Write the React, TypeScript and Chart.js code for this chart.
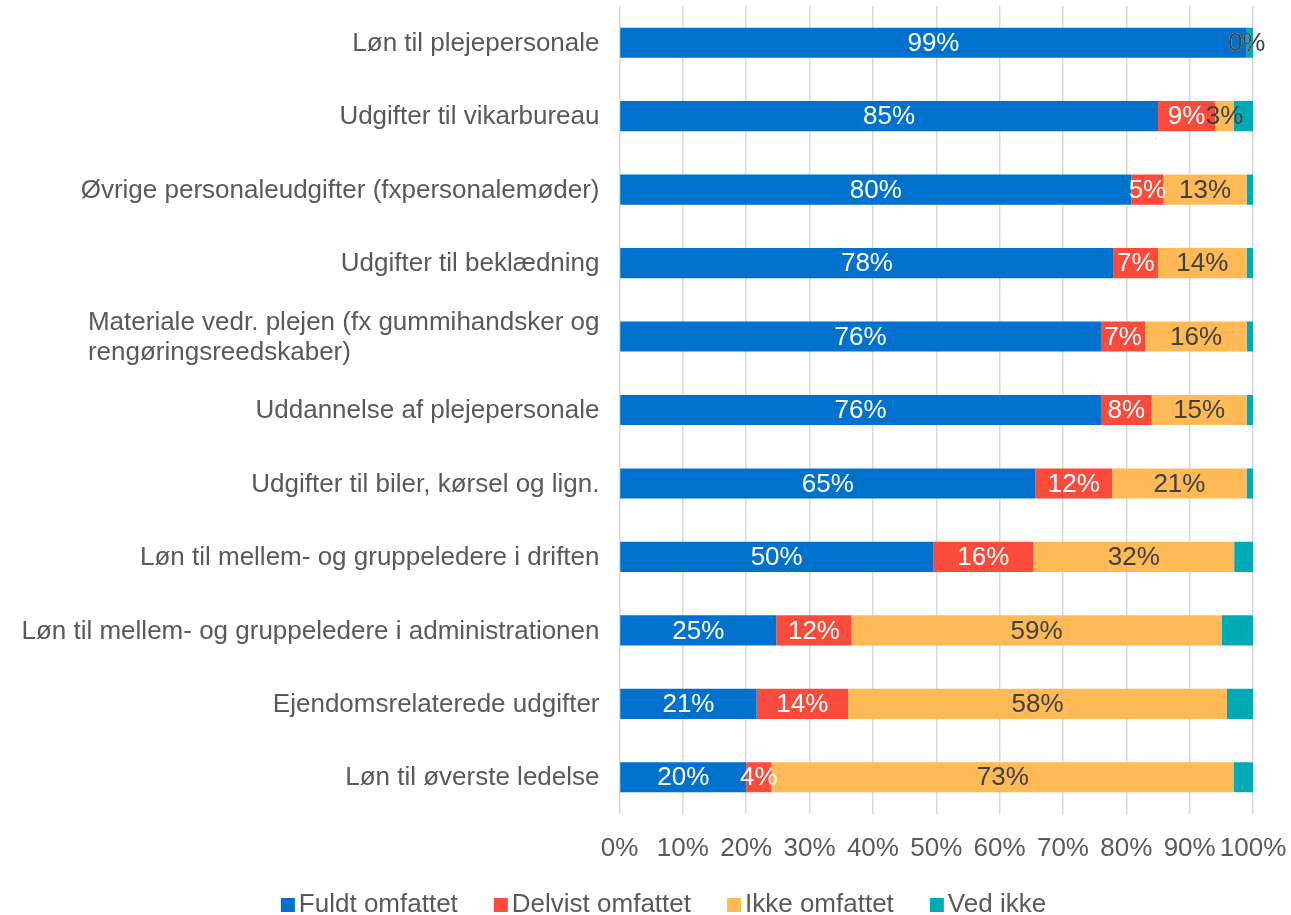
import React, { useEffect, useRef } from "react";
import { Chart, registerables } from "chart.js";

Chart.register(...registerables);

const categories: (string | string[])[] = [
  "Løn til plejepersonale",
  "Udgifter til vikarbureau",
  "Øvrige personaleudgifter (fxpersonalemøder)",
  "Udgifter til beklædning",
  ["Materiale vedr. plejen (fx gummihandsker og", "rengøringsreedskaber)"],
  "Uddannelse af plejepersonale",
  "Udgifter til biler, kørsel og lign.",
  "Løn til mellem- og gruppeledere i driften",
  "Løn til mellem- og gruppeledere i administrationen",
  "Ejendomsrelaterede udgifter",
  "Løn til øverste ledelse",
];

const seriesNames = ["Fuldt omfattet", "Delvist omfattet", "Ikke omfattet", "Ved ikke"];
const seriesColors = ["#0072CE", "#FA4B3C", "#FFB955", "#00AAB4"];
const labelColors = ["#FFFFFF", "#FFFFFF", "#404040", null];

const fuldt = [99, 85, 80, 78, 76, 76, 65, 50, 25, 21, 20];
const delvist = [0, 9, 5, 7, 7, 8, 12, 16, 12, 14, 4];
const ikke = [0, 3, 13, 14, 16, 15, 21, 32, 59, 58, 73];
const vedIkke = [1, 3, 1, 1, 1, 1, 1, 3, 5, 4, 3];

const xTicks = [0, 10, 20, 30, 40, 50, 60, 70, 80, 90, 100];

const FONT = "'Liberation Sans', Arial, sans-serif";
const TEXT = "#595959";

export default function App() {
  const ref = useRef<HTMLCanvasElement | null>(null);

  useEffect(() => {
    document.body.style.margin = "0";
    const raw = [fuldt, delvist, ikke, vedIkke];
    const totals = categories.map((_, i) => raw.reduce((s, a) => s + a[i], 0));
    const shares = raw.map((arr) => arr.map((v, i) => (v / totals[i]) * 100));

    const dataLabels = {
      id: "dataLabels",
      afterDatasetsDraw(chart: any) {
        const ctx = chart.ctx;
        ctx.save();
        ctx.font = `26px ${FONT}`;
        ctx.textAlign = "center";
        ctx.textBaseline = "middle";
        for (let d = 0; d < 3; d++) {
          const meta = chart.getDatasetMeta(d);
          meta.data.forEach((bar: any, i: number) => {
            const color = labelColors[d];
            if (!color) return;
            const cx = (bar.x + bar.base) / 2;
            ctx.fillStyle = color;
            ctx.fillText(Math.round(raw[d][i]) + "%", cx, bar.y + 1);
          });
        }
        ctx.restore();
      },
    };

    const yLabels = {
      id: "yLabels",
      afterDraw(chart: any) {
        const ctx = chart.ctx;
        const ys = chart.scales.y;
        ctx.save();
        ctx.font = `26px ${FONT}`;
        ctx.fillStyle = TEXT;
        ctx.textBaseline = "middle";
        ctx.textAlign = "left";
        const right = chart.chartArea.left - 20;
        categories.forEach((lab, i) => {
          const lines = Array.isArray(lab) ? lab : [lab];
          const w = Math.max(...lines.map((l) => ctx.measureText(l).width));
          const y0 = ys.getPixelForTick(i);
          const lh = 30;
          lines.forEach((l, k) => {
            const y = y0 + (k - (lines.length - 1) / 2) * lh;
            ctx.fillText(l, right - w, y + 1);
          });
        });
        ctx.restore();
      },
    };

    const legend = {
      id: "customLegend",
      afterDraw(chart: any) {
        const ctx = chart.ctx;
        ctx.save();
        ctx.font = `26px ${FONT}`;
        ctx.textBaseline = "alphabetic";
        ctx.textAlign = "left";
        const box = 14;
        const gap = 4;
        const itemGap = 36;
        const widths = seriesNames.map((n) => box + gap + ctx.measureText(n).width);
        const total = widths.reduce((a, b) => a + b, 0) + itemGap * (seriesNames.length - 1);
        let x = 663.5 - total / 2;
        const base = 912;
        seriesNames.forEach((n, i) => {
          ctx.fillStyle = seriesColors[i];
          ctx.fillRect(x, base - box, box, box);
          ctx.fillStyle = TEXT;
          ctx.fillText(n, x + box + gap, base);
          x += widths[i] + itemGap;
        });
        ctx.restore();
      },
    };

    const chart = new Chart(ref.current as HTMLCanvasElement, {
      type: "bar",
      data: {
        labels: categories.map((c) => (Array.isArray(c) ? c.join(" ") : c)),
        datasets: seriesNames.map((name, d) => ({
          label: name,
          data: shares[d],
          backgroundColor: seriesColors[d],
          borderWidth: 0,
          barPercentage: 0.41,
          categoryPercentage: 1,
        })),
      },
      options: {
        indexAxis: "y",
        animation: false,
        responsive: false,
        maintainAspectRatio: false,
        layout: { padding: { top: 6, right: 38, left: 0, bottom: 0 } },
        plugins: {
          legend: { display: false },
          tooltip: { enabled: false },
        },
        scales: {
          x: {
            stacked: true,
            min: 0,
            max: 100,
            afterBuildTicks(scale: any) {
              scale.ticks = xTicks.map((v) => ({ value: v }));
            },
            afterFit(scale: any) {
              scale.height = 101;
              scale.paddingRight = 0;
              scale.paddingLeft = 0;
            },
            grid: { color: "#D9D9D9", lineWidth: 1.5, drawTicks: false },
            border: { display: false },
            ticks: {
              padding: 19,
              color: TEXT,
              font: { family: FONT, size: 26 },
              callback: (v: any) => v + "%",
              maxRotation: 0,
              autoSkip: false,
            },
          },
          y: {
            stacked: true,
            afterFit(scale: any) {
              scale.width = 619.5;
            },
            grid: { display: false },
            border: { display: false },
            ticks: { display: false },
          },
        },
      },
      plugins: [dataLabels, yLabels, legend],
    } as any);

    return () => chart.destroy();
  }, []);

  return (
    <div style={{ width: 1291, height: 915, position: "relative", background: "#fff" }}>
      <canvas ref={ref} width={1291} height={915} style={{ display: "block", width: 1291, height: 915 }} />
    </div>
  );
}
